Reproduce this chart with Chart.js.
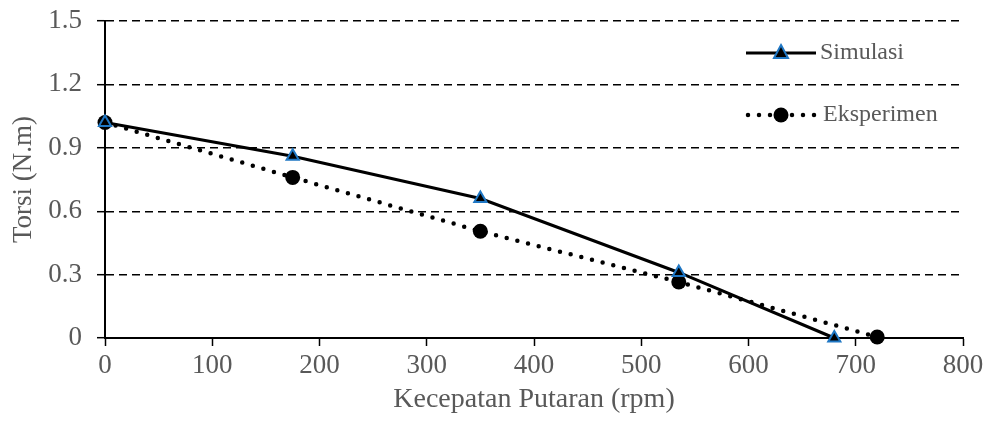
<!DOCTYPE html>
<html>
<head>
<meta charset="utf-8">
<script src="https://cdn.jsdelivr.net/npm/chart.js@4"></script>
<style>
  html, body { margin: 0; padding: 0; background: #fff; }
  #wrap { width: 991px; height: 428px; }
</style>
</head>
<body>
<div id="wrap"><canvas id="chart" width="991" height="428"></canvas></div>
<script>
// data
const simRpm = [0, 175, 350, 535, 680];
const simTorsi = [1.02, 0.86, 0.66, 0.31, 0.0];
const expRpm = [0, 175, 350, 535, 720];
const expTorsi = [1.02, 0.76, 0.505, 0.265, 0.005];
const seriesNames = ['Simulasi', 'Eksperimen'];
const xTitle = 'Kecepatan Putaran (rpm)';
const yTitle = 'Torsi (N.m)';

const FONT = "'Liberation Serif', 'Times New Roman', serif";
const GREY = '#595959';

const toPoints = (xs, ys) => xs.map((x, i) => ({ x: x, y: ys[i] }));

// legend drawn inside the plot, like the original
const legendBox = {
  id: 'legendBox',
  afterDatasetsDraw(chart) {
    const ctx = chart.ctx;
    ctx.save();
    // Simulasi
    ctx.strokeStyle = '#000';
    ctx.lineWidth = 3;
    ctx.beginPath();
    ctx.moveTo(746, 53); ctx.lineTo(816, 53);
    ctx.stroke();
    ctx.beginPath();
    ctx.moveTo(781, 45); ctx.lineTo(788, 58); ctx.lineTo(774, 58); ctx.closePath();
    ctx.fillStyle = '#000'; ctx.fill();
    ctx.lineWidth = 2; ctx.strokeStyle = '#1f77c4'; ctx.stroke();
    // Eksperimen
    ctx.strokeStyle = '#000';
    ctx.lineWidth = 4.5;
    ctx.lineCap = 'round';
    ctx.setLineDash([0, 11]);
    ctx.beginPath();
    ctx.moveTo(748, 115); ctx.lineTo(816, 115);
    ctx.stroke();
    ctx.setLineDash([]);
    ctx.beginPath();
    ctx.arc(781, 115, 7.5, 0, Math.PI * 2);
    ctx.fillStyle = '#000'; ctx.fill();
    // labels
    ctx.fillStyle = GREY;
    ctx.font = '24px ' + FONT;
    ctx.textBaseline = 'middle';
    ctx.fillText(seriesNames[0], 820, 53);
    ctx.fillText(seriesNames[1], 823, 115);
    ctx.restore();
  }
};

new Chart(document.getElementById('chart').getContext('2d'), {
  type: 'line',
  data: {
    datasets: [{
      label: seriesNames[0],
      data: toPoints(simRpm, simTorsi),
      borderColor: '#000',
      borderWidth: 3,
      pointStyle: 'triangle',
      pointRadius: 7,
      pointBackgroundColor: '#000',
      pointBorderColor: '#1f77c4',
      pointBorderWidth: 2,
      tension: 0,
      clip: false
    }, {
      label: seriesNames[1],
      data: toPoints(expRpm, expTorsi),
      borderColor: '#000',
      borderWidth: 4.5,
      borderDash: [0, 11],
      borderCapStyle: 'round',
      pointStyle: 'circle',
      pointRadius: 7.5,
      pointBackgroundColor: '#000',
      pointBorderColor: '#000',
      pointBorderWidth: 0,
      tension: 0,
      clip: false
    }]
  },
  options: {
    responsive: false,
    animation: false,
    layout: { padding: { left: 8, right: 28, top: 21, bottom: 12 } },
    plugins: {
      legend: { display: false },
      tooltip: { enabled: false }
    },
    scales: {
      x: {
        type: 'linear',
        min: 0, max: 800,
        afterFit(s) { s.height = 78; s.paddingLeft = 0; s.paddingRight = 0; },
        ticks: { stepSize: 100, color: GREY, font: { family: FONT, size: 27 }, padding: 4 },
        grid: { drawOnChartArea: false, drawTicks: true, tickLength: 8, tickColor: '#000', tickWidth: 1.5 },
        border: { display: true, color: '#000', width: 2 },
        title: { display: true, text: xTitle, color: GREY, font: { family: FONT, size: 28 }, padding: { top: 0, bottom: 0 } }
      },
      y: {
        min: 0, max: 1.5,
        afterFit(s) { s.width = 97; s.paddingTop = 0; s.paddingBottom = 0; },
        ticks: {
          stepSize: 0.3, color: GREY, font: { family: FONT, size: 27 }, padding: 15,
          callback: v => (Math.abs(v) < 1e-9 ? '0' : v.toFixed(1))
        },
        grid: { color: '#000', lineWidth: 1.4, drawTicks: true, tickLength: 8, tickColor: '#000', tickWidth: 1.5, tickBorderDash: [] },
        border: { display: true, color: '#000', width: 2, dash: [8, 5] },
        title: { display: true, text: yTitle, color: GREY, font: { family: FONT, size: 27 }, padding: { top: 0, bottom: 0 } }
      }
    }
  },
  plugins: [legendBox]
});
</script>
</body>
</html>
